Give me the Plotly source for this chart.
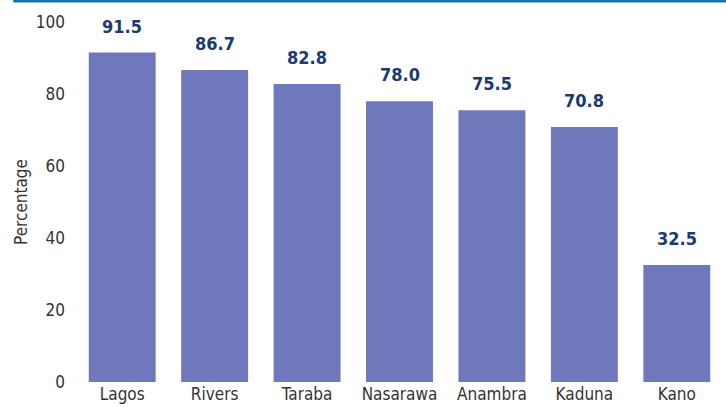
import plotly.graph_objects as go

states = ["Lagos", "Rivers", "Taraba", "Nasarawa", "Anambra", "Kaduna", "Kano"]
values = [91.5, 86.7, 82.8, 78.0, 75.5, 70.8, 32.5]
y_ticks = [0, 20, 40, 60, 80, 100]

FONT = "Liberation Sans Narrow, DejaVu Sans Condensed, Arial Narrow, sans-serif"

fig = go.Figure()
fig.add_trace(go.Bar(
    x=states, y=values,
    marker=dict(color="#6e78ba", line=dict(width=0)),
    hoverinfo="skip",
))

for s, v in zip(states, values):
    fig.add_annotation(
        x=s, y=v, text=f"<b>{v:.1f}</b>", showarrow=False,
        yanchor="bottom", yshift=14,
        font=dict(family=FONT, size=18, color="#1b3a6f"),
    )

fig.add_shape(type="line", xref="paper", yref="paper",
              x0=-0.097, x1=1.01, y0=1.058, y1=1.058,
              line=dict(color="#1673a6", width=3))

fig.update_layout(
    width=726, height=407,
    margin=dict(l=76, r=3, t=22, b=25),
    plot_bgcolor="white", paper_bgcolor="white",
    bargap=0.276,
    showlegend=False,
    font=dict(family=FONT, size=17, color="#333333"),
    xaxis=dict(showgrid=False, showline=False, ticks="", zeroline=False,
               tickfont=dict(size=17, color="#333333")),
    yaxis=dict(range=[0, 100], tickvals=y_ticks, showgrid=False, showline=False,
               zeroline=False, ticks="", ticklabelstandoff=10,
               tickfont=dict(size=17, color="#333333"),
               title=dict(text="Percentage", font=dict(size=17, color="#333333"),
                          standoff=3)),
)

fig.write_html("out.html", config={"displayModeBar": False},
               post_script="document.body.style.margin='0';document.body.style.overflow='hidden';")
